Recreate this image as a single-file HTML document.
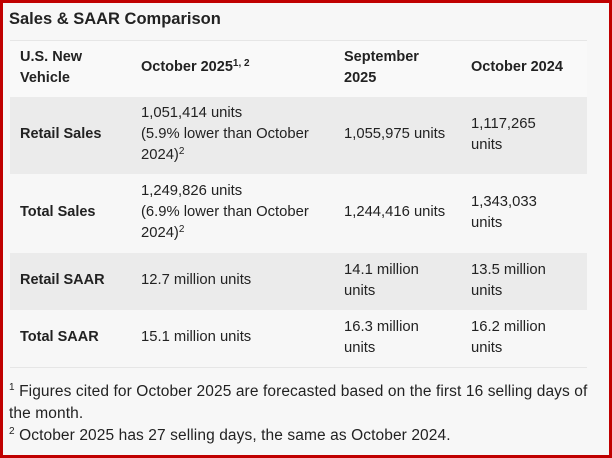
<!DOCTYPE html>
<html><head><style>
body{margin:0;width:612px;height:458px;overflow:hidden;background:#f7f7f7;font-family:"Liberation Sans",Arial,sans-serif;color:#222;}
.frame{position:absolute;left:0;top:0;width:606px;height:452px;border:3px solid #c00000;}
.t{position:absolute;white-space:nowrap;font-size:14.8px;line-height:21px;}
.b{font-weight:bold;font-size:14.5px;}
.row{position:absolute;left:10px;width:577px;}
sup{font-size:10px;vertical-align:top;position:relative;top:-4px;}
</style></head><body>
<div class="frame"></div>
<div class="t b" style="left:9px;top:9px;font-size:16.5px;">Sales &amp; SAAR Comparison</div>
<div class="row" style="top:40px;height:57px;background:#f9f9f9;border-top:1px solid #e6e6e6"></div>
<div class="row" style="top:97px;height:77px;background:#ebebeb"></div>
<div class="row" style="top:174px;height:79px;background:#f7f7f7"></div>
<div class="row" style="top:253px;height:57px;background:#ebebeb"></div>
<div class="row" style="top:310px;height:57px;background:#f7f7f7;border-bottom:1px solid #e6e6e6"></div>
<div class="t b" style="left:20px;top:47px;">U.S. New<br>Vehicle</div>
<div class="t b" style="left:141px;top:57px;">October 2025<sup>1, 2</sup></div>
<div class="t b" style="left:344px;top:47px;">September<br>2025</div>
<div class="t b" style="left:471px;top:57px;">October 2024</div>

<div class="t b" style="left:20px;top:124px;">Retail Sales</div>
<div class="t" style="left:141px;top:103px;">1,051,414 units<br>(5.9% lower than October<br>2024)<sup>2</sup></div>
<div class="t" style="left:344px;top:124px;">1,055,975 units</div>
<div class="t" style="left:471px;top:114px;">1,117,265<br>units</div>

<div class="t b" style="left:20px;top:202px;">Total Sales</div>
<div class="t" style="left:141px;top:181px;">1,249,826 units<br>(6.9% lower than October<br>2024)<sup>2</sup></div>
<div class="t" style="left:344px;top:202px;">1,244,416 units</div>
<div class="t" style="left:471px;top:192px;">1,343,033<br>units</div>

<div class="t b" style="left:20px;top:270px;">Retail SAAR</div>
<div class="t" style="left:141px;top:270px;">12.7 million units</div>
<div class="t" style="left:344px;top:260px;">14.1 million<br>units</div>
<div class="t" style="left:471px;top:260px;">13.5 million<br>units</div>

<div class="t b" style="left:20px;top:327px;">Total SAAR</div>
<div class="t" style="left:141px;top:327px;">15.1 million units</div>
<div class="t" style="left:344px;top:317px;">16.3 million<br>units</div>
<div class="t" style="left:471px;top:317px;">16.2 million<br>units</div>

<div class="t" style="left:9px;top:381px;font-size:15.5px;letter-spacing:0.1px;line-height:22px;"><sup>1</sup> Figures cited for October 2025 are forecasted based on the first 16 selling days of<br>the month.<br><sup>2</sup> October 2025 has 27 selling days, the same as October 2024.</div>
</body></html>
